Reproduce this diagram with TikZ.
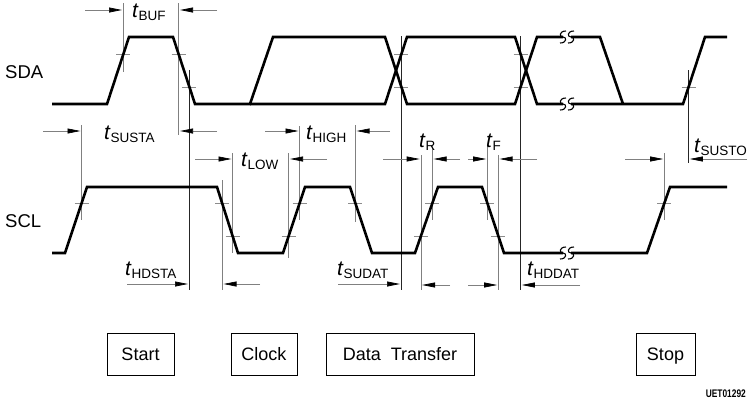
\documentclass[tikz,border=0pt]{standalone}
\usepackage{fontspec}
\setmainfont{Liberation Sans}
\usetikzlibrary{arrows.meta}
\newcommand\tlab[1]{{\fontsize{21}{21}\selectfont\itshape t}\kern0.6pt{\fontsize{13.5}{13.5}\selectfont\raisebox{-3.5pt}{#1}}}
\newcommand\tk[2]{\draw[thr] (#1-7,#2) -- (#1+7,#2);}
\newcommand\sq[2]{\draw[brk] (#1+3,#2-6) .. controls (#1-4,#2-6) and (#1-4,#2) .. (#1,#2) .. controls (#1+4,#2) and (#1+4,#2+6) .. (#1-3,#2+6);}
\begin{document}
\begin{tikzpicture}[x=1pt,y=-1pt,
  sig/.style={line width=2.6pt, line join=miter, black},
  thr/.style={draw=black!45, line width=0.7pt},
  mk/.style={draw=black!50, line width=0.7pt},
  mkd/.style={draw=black!85, line width=0.6pt},
  arr/.style={draw=black!50, line width=0.7pt, -{Triangle[length=13pt,width=5pt,color=black]}},
  lab/.style={inner sep=0pt, anchor=base west},
  box/.style={draw=black, line width=0.7pt, minimum height=42pt, inner sep=0pt, text height=12.9pt, text depth=0pt, font=\fontsize{18}{18}\selectfont},
  brk/.style={line width=1.1pt, black}
]
\useasboundingbox (0,0) rectangle (748,402);

% signal names
\node[lab, font=\fontsize{18.5}{18.5}\selectfont] (sda) at (5,78) {SDA};
\node[lab, font=\fontsize{18.5}{18.5}\selectfont] (scl) at (5,227) {SCL};

% vertical marker lines
\draw[mk] (123.4,3) -- (123.4,72);
\draw[mk] (178.6,3) -- (178.6,135);
\draw[mkd] (189.4,70) -- (189.4,290);
\draw[mk] (81.7,125) -- (81.7,220);
\draw[mk] (222.1,180) -- (222.1,290);
\draw[mk] (232.6,153) -- (232.6,253);
\draw[mk] (288.7,153) -- (288.7,258);
\draw[mk] (299.7,126) -- (299.7,220);
\draw[mk] (355.3,125) -- (355.3,222);
\draw[mkd] (401.4,36) -- (401.4,290);
\draw[mk] (420.9,155) -- (420.9,290);
\draw[mk] (432.4,145) -- (432.4,220);
\draw[mk] (487.3,145) -- (487.3,220);
\draw[mk] (498.3,155) -- (498.3,290);
\draw[mkd] (520.6,36) -- (520.6,290);
\draw[mk] (664.4,153) -- (664.4,220);
\draw[mkd] (688.6,70) -- (688.6,163);

% threshold ticks SDA
\tk{123.4}{54}
\tk{178.6}{54}
\tk{189.4}{87}
\tk{401.4}{54}
\tk{401.4}{87}
\tk{520.6}{54}
\tk{520.6}{87}
\tk{688.6}{87}
% threshold ticks SCL
\tk{81.7}{203}
\tk{222.1}{203}
\tk{232.6}{236}
\tk{288.7}{236}
\tk{299.7}{203}
\tk{355.3}{203}
\tk{420.9}{236}
\tk{432.4}{203}
\tk{487.3}{203}
\tk{498.3}{236}
\tk{664.4}{203}

% SDA
\draw[sig] (52,104) -- (107,104) -- (129,37) -- (173,37) -- (195,104) -- (250,104) -- (273,37) -- (385,37) -- (407,104) -- (515,104) -- (537,37) -- (563,37);
\draw[sig] (571,37) -- (600,37) -- (623,104);
\draw[sig] (250,104) -- (385,104) -- (407,37) -- (515,37) -- (537,104) -- (563,104);
\draw[sig] (571,104) -- (683,104) -- (705,37) -- (727,37);
% SCL
\draw[sig] (52,253) -- (65,253) -- (87,187) -- (217,187) -- (238,253) -- (283,253) -- (305,187) -- (350,187) -- (372,253) -- (415,253) -- (438,187) -- (482,187) -- (504,253) -- (563,253);
\draw[sig] (571,253) -- (647,253) -- (670,187) -- (727,187);

% break marks
\sq{563}{37}
\sq{571}{37}
\sq{563}{104}
\sq{571}{104}
\sq{563}{253}
\sq{571}{253}

% dimension arrows
\draw[arr] (85,10) -- (122,10);
\draw[arr] (217,10) -- (180,10);
\draw[arr] (43,131) -- (80.5,131);
\draw[arr] (217,131) -- (180,131);
\draw[arr] (127,284) -- (188,284);
\draw[arr] (260,284) -- (223.5,284);
\draw[arr] (195,159) -- (231.5,159);
\draw[arr] (327,159) -- (290,159);
\draw[arr] (265,131) -- (298.5,131);
\draw[arr] (390,131) -- (356.5,131);
\draw[arr] (338,284) -- (400,284);
\draw[arr] (383,159) -- (419.7,159);
\draw[arr] (460,159) -- (433.6,159);
\draw[arr] (468,159) -- (486.1,159);
\draw[arr] (537,159) -- (499.5,159);
\draw[arr] (450,285) -- (422.1,285);
\draw[arr] (468,285) -- (497.1,285);
\draw[arr] (580,285) -- (521.8,285);
\draw[arr] (625,159) -- (663.2,159);
\draw[arr] (747,159) -- (689.8,159);

% timing labels
\node[lab] (tbuf) at (132,17) {\tlab{BUF}};
\node[lab] (tsusta) at (104,139) {\tlab{SUSTA}};
\node[lab] (thdsta) at (125,275) {\tlab{HDSTA}};
\node[lab] (tlow) at (241,166) {\tlab{LOW}};
\node[lab] (thigh) at (306,139) {\tlab{HIGH}};
\node[lab] (tsudat) at (337,275) {\tlab{SUDAT}};
\node[lab] (tr) at (419,147) {\tlab{R}};
\node[lab] (tf) at (486,147) {\tlab{F}};
\node[lab] (thddat) at (527,275) {\tlab{HDDAT}};
\node[lab] (tsusto) at (694,152) {\tlab{SUSTO}};

% phase boxes
\node[box, minimum width=67pt] (start) at (140.5,354) {Start};
\node[box, minimum width=66pt] (clock) at (264,354) {Clock};
\node[box, minimum width=148pt] (data) at (400,354) {Data\ \ Transfer};
\node[box, minimum width=59pt] (stop) at (665.5,354) {Stop};

\node[inner sep=0pt, anchor=base east, font=\fontsize{11}{11}\selectfont\bfseries] (uet) at (746,397) {\scalebox{0.76}[1]{UET01292}};
\end{tikzpicture}
\end{document}
